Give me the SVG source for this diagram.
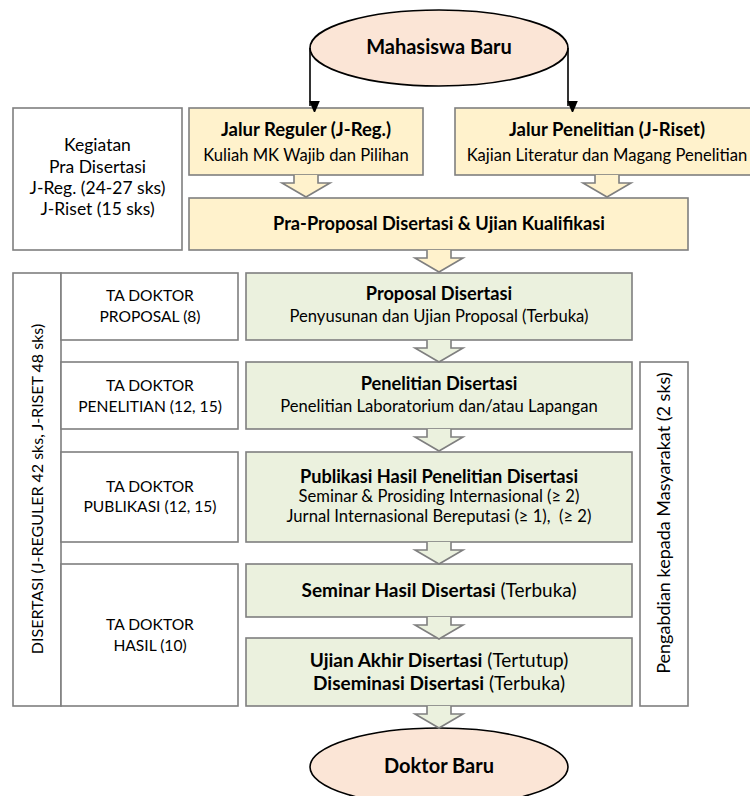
<svg xmlns="http://www.w3.org/2000/svg" width="750" height="796" viewBox="0 0 750 796">
<style>
.box{stroke:#7f7f7f;stroke-width:1.6}
.y{fill:#fff2cc}
.g{fill:#ebf1de}
.w{fill:#ffffff}
.ell{fill:#fbe5d6;stroke:#000;stroke-width:1.6}
.ln{stroke:#000;stroke-width:1.6;fill:none}
.ba{stroke:#7f7f7f;stroke-width:1.6;stroke-linejoin:miter}
text{font-family:Lato,"Liberation Sans",sans-serif;fill:#000;font-size:16.6px;text-anchor:middle}
.b{font-weight:bold;font-size:18.2px}
.jt{font-weight:bold;font-size:18.5px}
.t{font-weight:bold;font-size:20px}
.k{font-size:17.5px}
.ta{font-size:15.6px}
.big{font-size:19px}
.big .b{font-size:19px}
.vl{font-size:16px}
.vr{font-size:18px}
</style>
<defs>
<path id="blk" d="M-12,0 V8 H-24 L0,22 L24,8 H12 V0"/>
<marker id="ah" markerWidth="11" markerHeight="13" refX="5.5" refY="12" orient="auto" markerUnits="userSpaceOnUse" viewBox="0 0 11 13">
<path d="M0,0 L11,0 L5.5,13 Z" fill="#000" transform="rotate(-90 5.5 6.5) translate(-1 1)"/>
</marker>
</defs>
<rect width="750" height="796" fill="#fff"/>

<g id="mahasiswa">
<ellipse class="ell" cx="439" cy="48" rx="129" ry="38"/>
<text class="t" x="439" y="54">Mahasiswa Baru</text>
</g>

<g id="jalur-reguler">
<rect class="box y" x="189" y="108" width="234" height="67"/>
<text class="jt" x="306" y="136">Jalur Reguler (J-Reg.)</text>
<text x="306" y="161">Kuliah MK Wajib dan Pilihan</text>
</g>

<g id="jalur-penelitian">
<rect class="box y" x="455" y="108" width="310" height="67"/>
<text class="jt" x="607" y="136">Jalur Penelitian (J-Riset)</text>
<text x="607" y="161">Kajian Literatur dan Magang Penelitian</text>
</g>

<g id="kegiatan">
<rect class="box w" x="13" y="108" width="169" height="142"/>
<text class="k" x="97.5" y="151">Kegiatan</text>
<text class="k" x="97.5" y="172.5">Pra Disertasi</text>
<text class="k" x="97.5" y="194">J-Reg. (24-27 sks)</text>
<text class="k" x="97.5" y="215">J-Riset (15 sks)</text>
</g>

<g id="pra-proposal">
<rect class="box y" x="189" y="198" width="499" height="52"/>
<text class="b" x="439" y="230">Pra-Proposal Disertasi &amp; Ujian Kualifikasi</text>
</g>

<g id="disertasi-label">
<rect class="box w" x="13" y="273" width="48" height="433"/>
<text class="vl" transform="translate(37 489) rotate(-90)" y="5.5">DISERTASI (J-REGULER 42 sks, J-RISET 48 sks)</text>
</g>

<g id="ta-proposal">
<rect class="box w" x="61" y="273" width="177" height="67"/>
<text class="ta" x="150" y="301">TA DOKTOR</text>
<text class="ta" x="150" y="322">PROPOSAL (8)</text>
</g>
<g id="proposal">
<rect class="box g" x="246" y="273" width="386" height="67"/>
<text class="b" x="439" y="300">Proposal Disertasi</text>
<text x="439" y="322">Penyusunan dan Ujian Proposal (Terbuka)</text>
</g>

<g id="ta-penelitian">
<rect class="box w" x="61" y="362" width="177" height="67"/>
<text class="ta" x="150" y="391">TA DOKTOR</text>
<text class="ta" x="150" y="412">PENELITIAN (12, 15)</text>
</g>
<g id="penelitian">
<rect class="box g" x="246" y="362" width="386" height="67"/>
<text class="b" x="439" y="390">Penelitian Disertasi</text>
<text x="439" y="412">Penelitian Laboratorium dan/atau Lapangan</text>
</g>

<g id="pengabdian">
<rect class="box w" x="640" y="362" width="48" height="344"/>
<text class="vr" transform="translate(664 523) rotate(-90)" y="6">Pengabdian kepada Masyarakat (2 sks)</text>
</g>

<g id="ta-publikasi">
<rect class="box w" x="61" y="452" width="177" height="90"/>
<text class="ta" x="150" y="492">TA DOKTOR</text>
<text class="ta" x="150" y="512">PUBLIKASI (12, 15)</text>
</g>
<g id="publikasi">
<rect class="box g" x="246" y="452" width="386" height="90"/>
<text class="b" x="439" y="483">Publikasi Hasil Penelitian Disertasi</text>
<text x="439" y="502">Seminar &amp; Prosiding Internasional (≥ 2)</text>
<text x="439" y="522">Jurnal Internasional Bereputasi (≥ 1), &#160;(≥ 2)</text>
</g>

<g id="ta-hasil">
<rect class="box w" x="61" y="564" width="177" height="142"/>
<text class="ta" x="150" y="630">TA DOKTOR</text>
<text class="ta" x="150" y="651">HASIL (10)</text>
</g>
<g id="seminar-hasil">
<rect class="box g" x="246" y="564" width="386" height="53"/>
<text class="big" x="439" y="597"><tspan class="b">Seminar Hasil Disertasi</tspan> (Terbuka)</text>
</g>
<g id="ujian-akhir">
<rect class="box g" x="246" y="638" width="386" height="68"/>
<text class="big" x="439" y="667"><tspan class="b">Ujian Akhir Disertasi</tspan> (Tertutup)</text>
<text class="big" x="439" y="690"><tspan class="b">Diseminasi Disertasi</tspan> (Terbuka)</text>
</g>

<g id="doktor">
<ellipse class="ell" cx="439" cy="767" rx="129" ry="39"/>
<text class="t" x="439" y="773">Doktor Baru</text>
</g>

<g id="connectors">
<path class="ln" d="M310,48 V106" marker-end="url(#ah)"/>
<path class="ln" d="M568,48 V106" marker-end="url(#ah)"/>
<use href="#blk" class="ba" fill="#fff2cc" x="306" y="175"/>
<use href="#blk" class="ba" fill="#fff2cc" x="607" y="175"/>
<use href="#blk" class="ba" fill="#fff2cc" x="439" y="250"/>
<use href="#blk" class="ba" fill="#ebf1de" x="439" y="340"/>
<use href="#blk" class="ba" fill="#ebf1de" x="439" y="429"/>
<use href="#blk" class="ba" fill="#ebf1de" x="439" y="542"/>
<use href="#blk" class="ba" fill="#ebf1de" x="439" y="617"/>
<use href="#blk" class="ba" fill="#ebf1de" x="439" y="706"/>
</g>
</svg>
